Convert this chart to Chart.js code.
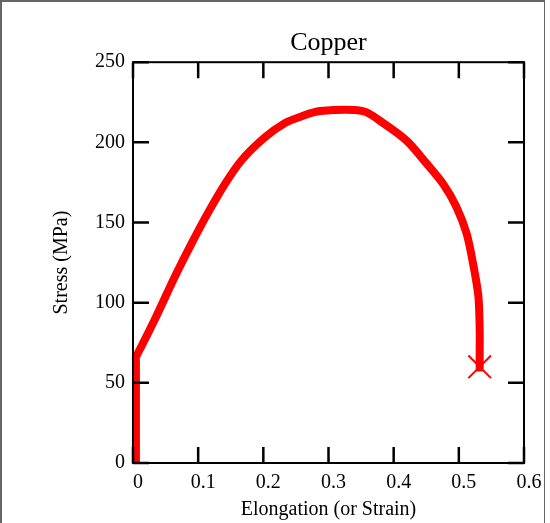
<!DOCTYPE html>
<html>
<head>
<meta charset="utf-8">
<script src="https://cdn.jsdelivr.net/npm/chart.js@4.4.1/dist/chart.umd.min.js"></script>
<style>
  html, body { margin: 0; padding: 0; background: #fff; }
  #wrap { position: relative; width: 550px; height: 523px; }
  #frame { position: absolute; left: 0; top: 0; width: 542px; height: 530px;
           border-left: 2px solid #666; border-top: 2px solid #666; border-right: 1px solid #666; }
  canvas { position: absolute; left: 0; top: 0; }
</style>
</head>
<body>
<div id="wrap">
  <div id="frame"></div>
  <canvas id="chart" width="550" height="523"></canvas>
</div>
<script>
// stress-strain curve for copper
var strain = [0.0045, 0.0045, 0.0045, 0.012, 0.034, 0.064, 0.09, 0.115, 0.141, 0.167, 0.202, 0.233, 0.257, 0.287,
              0.353, 0.384, 0.42, 0.45, 0.476, 0.496, 0.512, 0.522, 0.53, 0.532, 0.532, 0.532];
var stress = [0, 64, 66, 72, 90, 116, 137, 156, 174, 189, 203, 212, 216, 219.5,
              219.5, 212, 201, 187, 174, 160, 143, 124, 104, 83, 70, 57];
var fracture = { x: 0.532, y: 60 };
var xTicks = [0, 0.1, 0.2, 0.3, 0.4, 0.5, 0.6];
var yTicks = [0, 50, 100, 150, 200, 250];

var serif = "'Liberation Serif', 'DejaVu Serif', serif";

var points = strain.map(function (x, i) { return { x: x, y: stress[i] }; });

// frame + inward ticks on all four sides
var framePlugin = {
  id: 'frameTicks',
  afterDatasetsDraw: function (chart) {
    var ctx = chart.ctx, a = chart.chartArea;
    var xs = chart.scales.x, ys = chart.scales.y;
    var len = 16;
    ctx.save();
    ctx.strokeStyle = '#000';
    ctx.lineWidth = 2;
    ctx.strokeRect(a.left, a.top, a.right - a.left, a.bottom - a.top);
    ctx.lineWidth = 2.5;
    ctx.beginPath();
    xTicks.forEach(function (v) {
      var px = xs.getPixelForValue(v);
      ctx.moveTo(px, a.bottom); ctx.lineTo(px, a.bottom - len);
      ctx.moveTo(px, a.top); ctx.lineTo(px, a.top + len);
    });
    yTicks.forEach(function (v) {
      var py = ys.getPixelForValue(v);
      ctx.moveTo(a.left, py); ctx.lineTo(a.left + len, py);
      ctx.moveTo(a.right, py); ctx.lineTo(a.right - len, py);
    });
    ctx.stroke();
    ctx.restore();
  }
};

new Chart(document.getElementById('chart'), {
  type: 'scatter',
  data: {
    datasets: [
      {
        data: points,
        showLine: true,
        borderColor: '#ff0000',
        borderWidth: 8,
        pointRadius: 0,
        tension: 0.3,
        borderJoinStyle: 'round',
        clip: 6
      },
      {
        data: [fracture],
        pointStyle: 'crossRot',
        pointRadius: 16,
        pointBorderWidth: 2,
        pointBorderColor: '#ff0000',
        showLine: false
      }
    ]
  },
  options: {
    responsive: false,
    animation: false,
    layout: { padding: { left: 0, right: 26, top: 0, bottom: 0 } },
    plugins: {
      legend: { display: false },
      tooltip: { enabled: false },
      title: {
        display: true,
        fullSize: false,
        text: 'Copper',
        color: '#000',
        font: { family: serif, size: 26, weight: 'normal' },
        padding: { top: 28, bottom: 3 }
      }
    },
    scales: {
      x: {
        type: 'linear',
        min: 0,
        max: 0.6,
        afterBuildTicks: function (s) { s.ticks = xTicks.map(function (v) { return { value: v }; }); },
        afterFit: function (s) { s.height = 60; },
        grid: { display: false, drawTicks: false },
        border: { display: false },
        ticks: {
          color: '#000',
          padding: 8,
          labelOffset: 5,
          maxRotation: 0,
          font: { family: serif, size: 20 },
          callback: function (v) { return String(v); }
        },
        title: {
          display: true,
          text: 'Elongation (or Strain)',
          color: '#000',
          font: { family: serif, size: 20 },
          padding: { top: 0, bottom: 1 }
        }
      },
      y: {
        type: 'linear',
        min: 0,
        max: 250,
        afterBuildTicks: function (s) { s.ticks = yTicks.map(function (v) { return { value: v }; }); },
        afterFit: function (s) { s.width = 133; },
        grid: { display: false, drawTicks: false },
        border: { display: false },
        ticks: {
          color: '#000',
          padding: 8,
          font: { family: serif, size: 20 }
        },
        title: {
          display: true,
          text: 'Stress (MPa)',
          color: '#000',
          font: { family: serif, size: 20 },
          padding: { top: 50, bottom: 0 }
        }
      }
    }
  },
  plugins: [framePlugin]
});
</script>
</body>
</html>
